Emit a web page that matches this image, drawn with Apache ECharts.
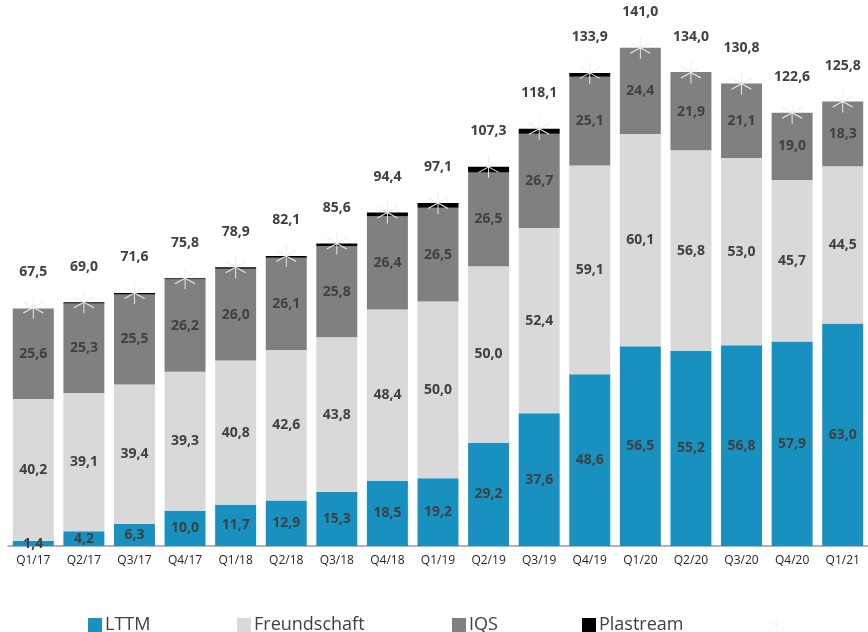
<!DOCTYPE html>
<html>
<head>
<meta charset="utf-8">
<script src="https://cdn.jsdelivr.net/npm/echarts@6/dist/echarts.min.js"></script>
<style>html,body{margin:0;padding:0;background:#fff}#c{width:868px;height:632px}</style>
</head>
<body>
<div id="c"></div>
<script>
const categories = ['Q1/17','Q2/17','Q3/17','Q4/17','Q1/18','Q2/18','Q3/18','Q4/18','Q1/19','Q2/19','Q3/19','Q4/19','Q1/20','Q2/20','Q3/20','Q4/20','Q1/21'];
const lttm = [1.4,4.2,6.3,10.0,11.7,12.9,15.3,18.5,19.2,29.2,37.6,48.6,56.5,55.2,56.8,57.9,63.0];
const freundschaft = [40.2,39.1,39.4,39.3,40.8,42.6,43.8,48.4,50.0,50.0,52.4,59.1,60.1,56.8,53.0,45.7,44.5];
const iqs = [25.6,25.3,25.5,26.2,26.0,26.1,25.8,26.4,26.5,26.5,26.7,25.1,24.4,21.9,21.1,19.0,18.3];
const plastream = [0,0.4,0.4,0.3,0.4,0.5,0.7,1.1,1.4,1.6,1.4,1.1,0,0.1,0,0,0];
const totals = [67.5,69.0,71.6,75.8,78.9,82.1,85.6,94.4,97.1,107.3,118.1,133.9,141.0,134.0,130.8,122.6,125.8];

const fmt = v => v.toFixed(1).replace('.', ',');
const FONT = '"Open Sans", sans-serif';
const labelStyle = {show:true, position:'inside', color:'#404040', fontWeight:'bold', fontSize:14, fontFamily:FONT, formatter:p=>fmt(p.value)};
const star = 'path://M0,-11L0,11M-10,-5.5L10,5.5M-10,5.5L10,-5.5';
const starColor = '#e8eff3';

const chart = echarts.init(document.getElementById('c'), null, {renderer:'canvas'});
function legendAt(left, name){
  return {
    left:left, top:611, itemWidth:14, itemHeight:14, itemGap:0,
    data:[{name:name, icon:'rect'}],
    textStyle:{fontSize:18, color:'#404040', fontFamily:FONT, padding:[0,0,0,-2]},
    selectedMode:false
  };
}
chart.setOption({
  animation:false,
  grid:{left:8, right:0, top:16, bottom:86},
  legend:[
    legendAt(83,'LTTM'),
    legendAt(232,'Freundschaft'),
    legendAt(447,'IQS'),
    legendAt(577,'Plastream'),
    {left:762, top:610, itemWidth:20, itemHeight:20, data:[{name:'Gesamt', icon:star}], formatter:()=>'', selectedMode:false,
     itemStyle:{color:'transparent', borderColor:'#f0f4f6', borderWidth:1}}
  ],
  xAxis:{type:'category', data:categories,
    axisLine:{lineStyle:{color:'#9a9a9a', width:1.5}}, axisTick:{show:false},
    axisLabel:{color:'#262626', fontSize:12, fontFamily:FONT, margin:9}},
  yAxis:{type:'value', min:0, max:150, show:false, splitLine:{show:false}},
  series:[
    {name:'LTTM', type:'bar', stack:'s', barWidth:'81%', data:lttm, itemStyle:{color:'#1891c1'}, label:labelStyle},
    {name:'Freundschaft', type:'bar', stack:'s', data:freundschaft, itemStyle:{color:'#d9d9d9'}, label:labelStyle},
    {name:'IQS', type:'bar', stack:'s', data:iqs, itemStyle:{color:'#808080'}, label:labelStyle},
    {name:'Plastream', type:'bar', stack:'s', data:plastream, itemStyle:{color:'#000000'}},
    {name:'Gesamt', type:'line', data:totals, z:10, symbol:star, symbolSize:[20,22],
     lineStyle:{opacity:0}, itemStyle:{color:'transparent', borderColor:starColor, borderWidth:1},
     label:{show:true, position:'top', distance:17, color:'#404040', fontWeight:'bold', fontSize:14, fontFamily:FONT, formatter:p=>fmt(p.value)}}
  ]
});
</script>
</body>
</html>
